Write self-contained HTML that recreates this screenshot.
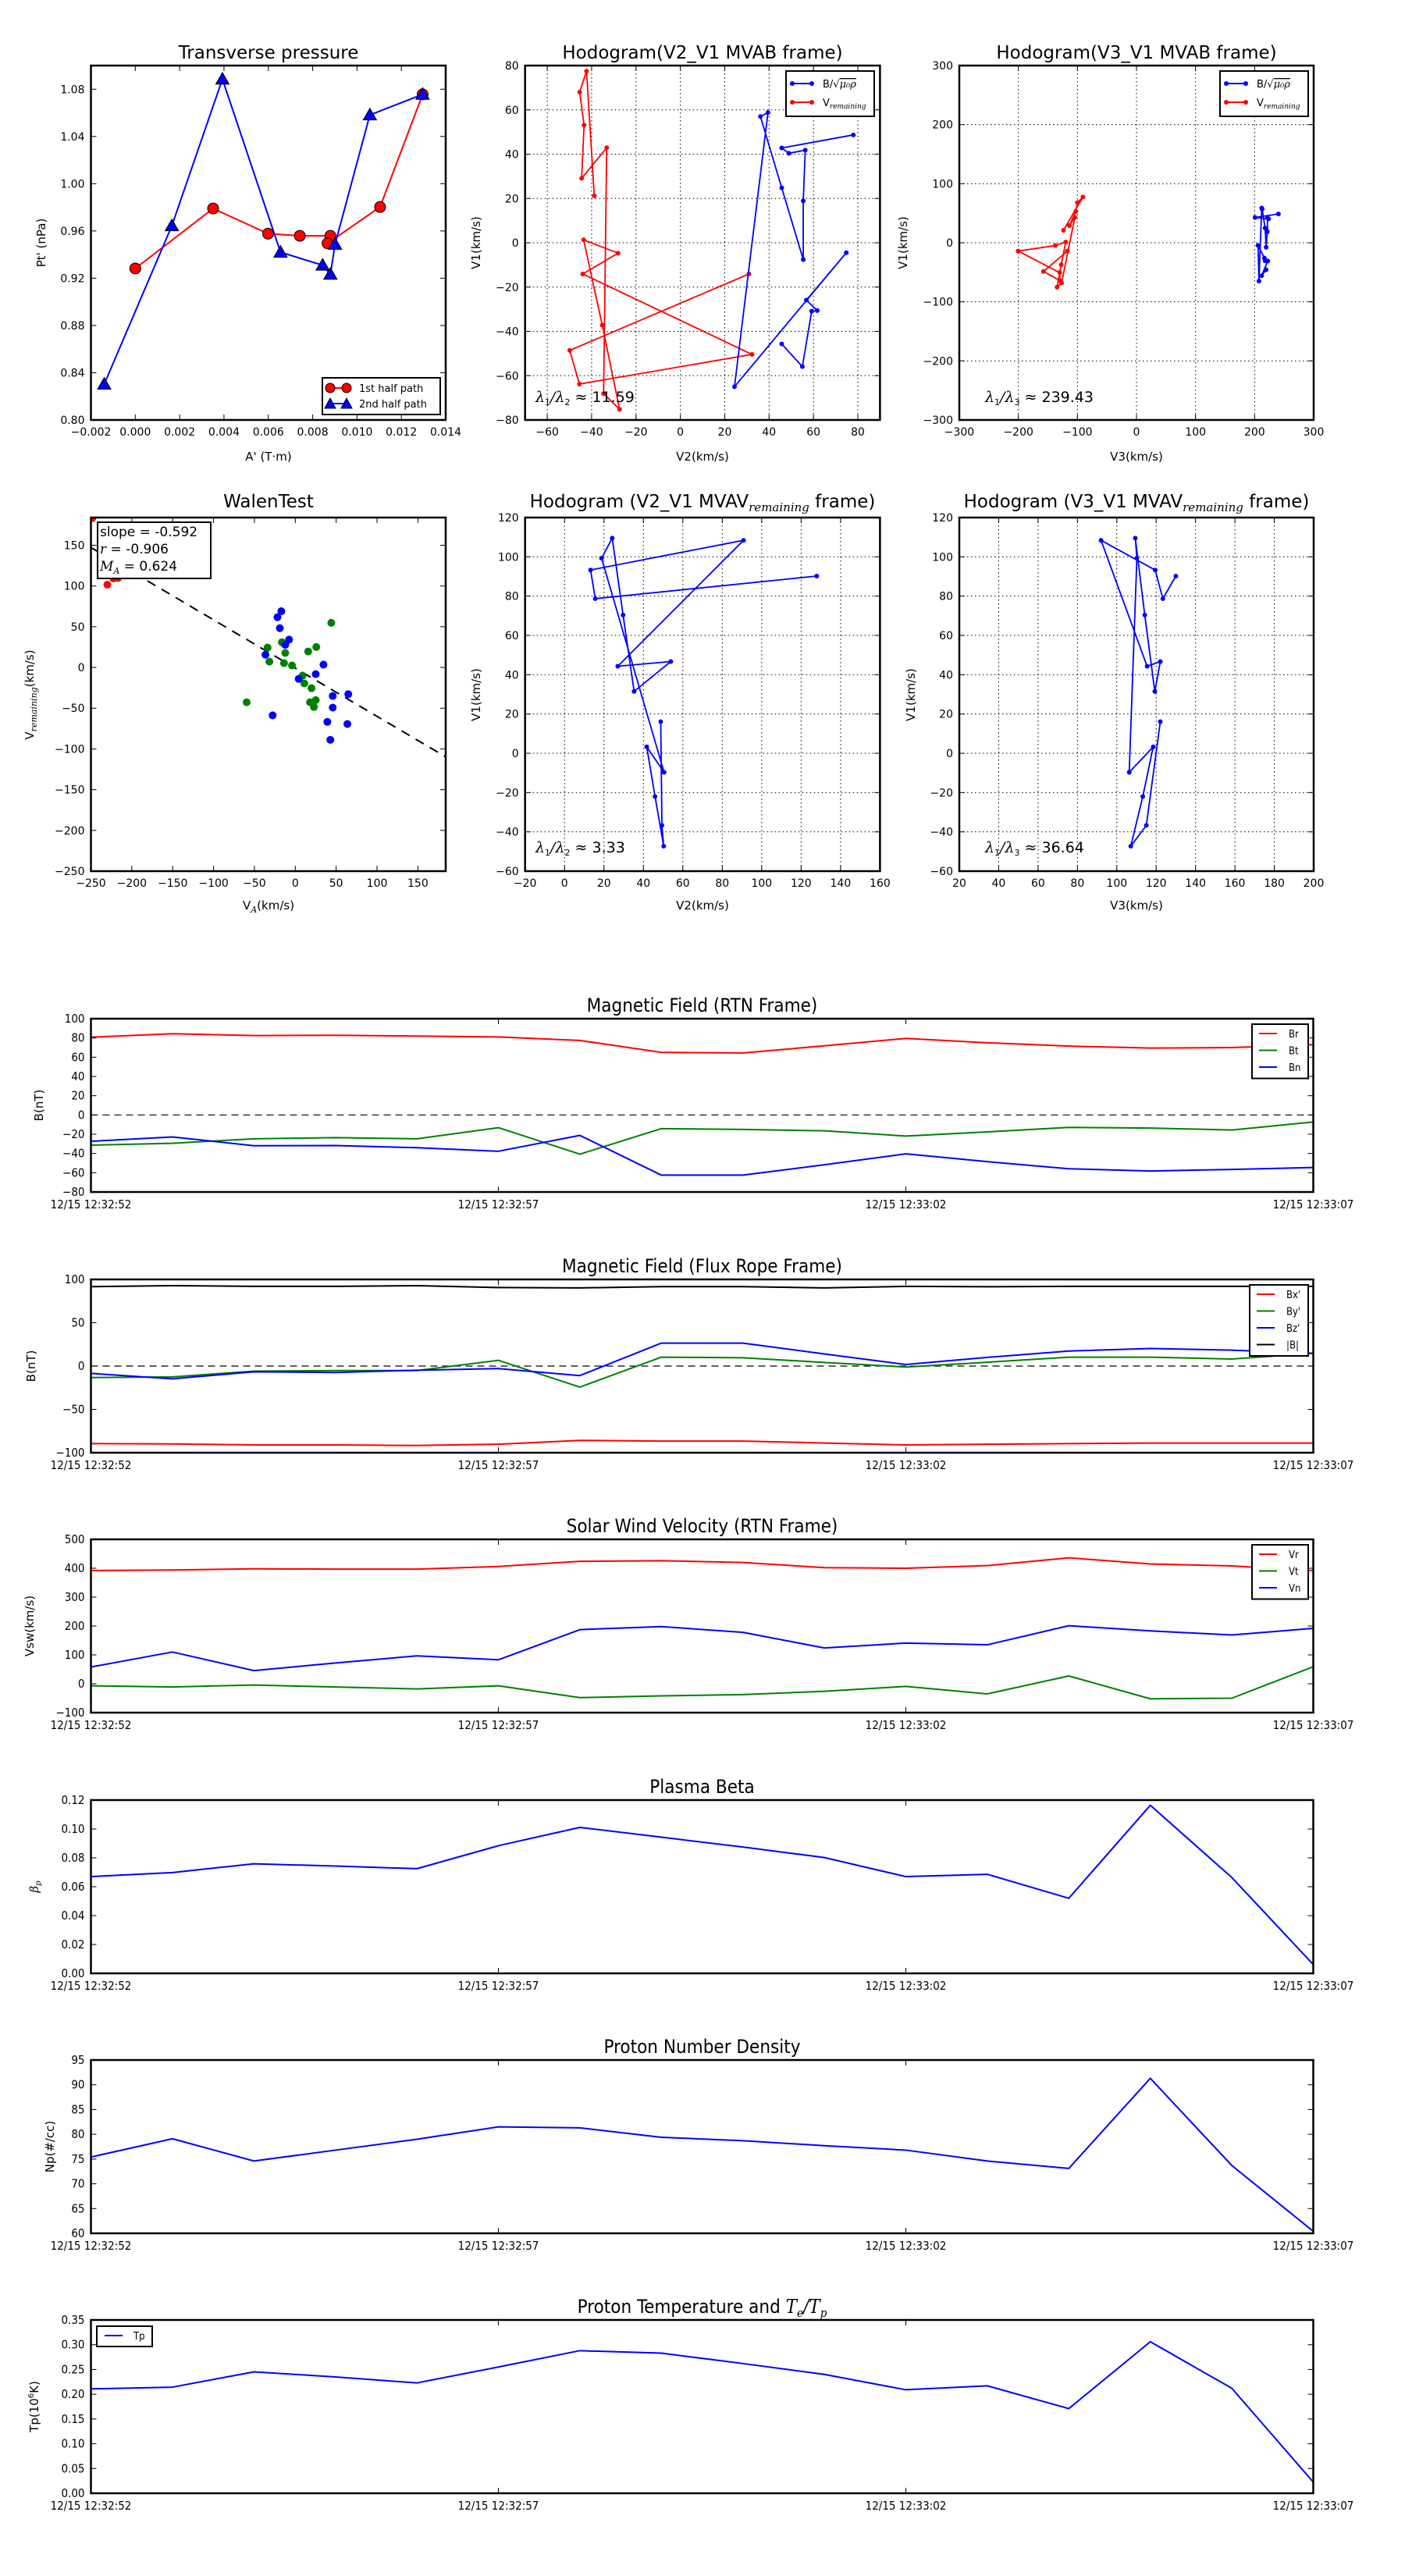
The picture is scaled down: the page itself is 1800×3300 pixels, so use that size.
<!DOCTYPE html>
<html><head><meta charset="utf-8">
<style>
html,body{margin:0;padding:0;background:#fff;}
svg{display:block;}
.t{font-family:"DejaVu Sans","Liberation Sans",sans-serif;fill:#000;}
.c{font-family:"DejaVu Sans Condensed","DejaVu Sans","Liberation Sans Narrow",sans-serif;font-stretch:condensed;fill:#000;}
.m{font-family:"DejaVu Serif","Liberation Serif",serif;font-style:italic;}
</style></head>
<body>
<svg id="fig" xmlns="http://www.w3.org/2000/svg" width="1800" height="3300" viewBox="0 0 1800 3300">
<rect x="0" y="0" width="1800" height="3300" fill="#fff"/>
<defs></defs>
<!-- static titles / labels -->
<text class="t" x="344" y="75" font-size="23" text-anchor="middle">Transverse pressure</text>
<text class="t" x="344" y="590" font-size="15" text-anchor="middle">A' (T·m)</text>
<text class="t" x="0" y="0" font-size="15" text-anchor="middle" transform="translate(58,311) rotate(-90)">Pt' (nPa)</text>

<text class="t" x="900" y="75" font-size="23" text-anchor="middle">Hodogram(V2_V1 MVAB frame)</text>
<text class="t" x="900" y="590" font-size="15" text-anchor="middle">V2(km/s)</text>
<text class="t" x="0" y="0" font-size="15" text-anchor="middle" transform="translate(615,311) rotate(-90)">V1(km/s)</text>

<text class="t" x="1456" y="75" font-size="23" text-anchor="middle">Hodogram(V3_V1 MVAB frame)</text>
<text class="t" x="1456" y="590" font-size="15" text-anchor="middle">V3(km/s)</text>
<text class="t" x="0" y="0" font-size="15" text-anchor="middle" transform="translate(1162,311) rotate(-90)">V1(km/s)</text>

<text class="t" x="344" y="650" font-size="23" text-anchor="middle">WalenTest</text>
<text class="t" x="344" y="1165" font-size="15" text-anchor="middle">V<tspan class="m" font-size="11" dy="4">A</tspan><tspan dy="-4">(km/s)</tspan></text>
<text class="t" x="0" y="0" font-size="15" text-anchor="middle" transform="translate(43,890) rotate(-90)">V<tspan class="m" font-size="11" dy="4">remaining</tspan><tspan dy="-4">(km/s)</tspan></text>

<text class="t" x="900" y="650" font-size="23" text-anchor="middle">Hodogram (V2_V1 MVAV<tspan class="m" font-size="15" dy="5">remaining</tspan><tspan dy="-5"> frame)</tspan></text>
<text class="t" x="900" y="1165" font-size="15" text-anchor="middle">V2(km/s)</text>
<text class="t" x="0" y="0" font-size="15" text-anchor="middle" transform="translate(615,890) rotate(-90)">V1(km/s)</text>

<text class="t" x="1456" y="650" font-size="23" text-anchor="middle">Hodogram (V3_V1 MVAV<tspan class="m" font-size="15" dy="5">remaining</tspan><tspan dy="-5"> frame)</tspan></text>
<text class="t" x="1456" y="1165" font-size="15" text-anchor="middle">V3(km/s)</text>
<text class="t" x="0" y="0" font-size="15" text-anchor="middle" transform="translate(1172,890) rotate(-90)">V1(km/s)</text>
</svg>
<script>
// ---------------- DATA ----------------
// Transverse pressure
const ptRedA=[0.0000,0.00351,0.00599,0.00742,0.0088,0.00867,0.01104,0.01296];
const ptRedP=[0.9282,0.979,0.9577,0.9559,0.9559,0.9495,0.9803,1.0756];
const ptBlueA=[-0.0014,0.00165,0.00393,0.00655,0.00845,0.0088,0.00901,0.01058,0.01296];
const ptBlueP=[0.8303,0.9644,1.0885,0.942,0.931,0.9233,0.9487,1.0582,1.0756];
// MVAB hodograms (shared V1)
const mvabRedV1=[21.2,77.5,68,53.1,29.1,42.9,-68.1,-75.2,-37.2,1.3,-4.7,-14.1,-50.4,-63.8,-48.6,-14.1];
const mvabRedV2=[-38.8,-42.3,-45.4,-43.4,-44.5,-33.2,-34.6,-27.4,-35.2,-43.6,-28.1,-44,32.3,-45.5,-49.9,30.9];
const mvabRedV3=[-123.6,-90.7,-100,-102.7,-113.7,-104.4,-126.8,-134.5,-127.4,-119.7,-137.3,-200.3,-130,-130,-157.5,-117];
const mvabBlueV1=[-45.7,-55.9,-30.9,-30.6,-25.9,-4.5,-65,58.8,57,24.8,-7.6,18.9,41.8,40.4,42.8,48.7];
const mvabBlueV2=[45.7,55,59.2,61.7,56.8,74.8,24.4,39.5,36.1,45.7,55.4,55.4,56.3,48.9,45.7,78];
const mvabBlueV3=[219.5,211.8,222.2,217.8,216.7,205.8,207.4,212,212.8,217.8,219.5,221.6,222,223.8,200.7,240.3];
// MVAV hodograms
const mvavV1=[90.2,78.7,93.3,108.4,44.3,46.7,31.5,70.4,109.5,99.3,-9.7,3.3,-22,-47.3,-36.7,16.1];
const mvavV2=[127.9,15.6,13.2,90.8,27,53.9,35.3,29.7,24.2,18.8,50.5,41.7,45.9,50.3,49.4,48.8];
const mvavV3=[130,123.4,119.5,92,115.4,122.1,119.3,114.2,109.4,110.2,106.3,118.5,113.2,107.1,115,122.1];
// Walen test
const walenRedX=[-248.2,-229.9,-222.6,-217];
const walenRedY=[183.3,101.6,109.3,109.7];
const walenBlueX=[-17.1,-21.8,-18.9,-7.6,-12.3,-36.5,34.5,25,4.1,45.8,64.8,45.8,39.2,63.7,42.9,-27.7];
const walenBlueY=[69,61.7,48.2,34.2,27.7,15.6,3.5,-8.2,-14.1,-35,-32.8,-49.3,-66.8,-69.4,-88.8,-58.8];
const walenGreenX=[44,-33.9,-16.4,-12.3,15.8,25.7,-31.7,-13.8,-4,8.9,11.1,19.8,25,18,22.8,-59.5];
const walenGreenY=[54.8,24.4,31,17.8,19.6,25.1,7.1,5.3,2.4,-10,-19.6,-25.5,-40.1,-42.7,-48.5,-42.7];
const walenSlope=-0.592;
const walenIntercept=-0.8;
// Time series (seconds since 12:32:52)
const tSec=[0,1,2,3,4,5,6,7,8,9,10,11,12,13,14,15];
const timeTickSec=[0,5,10,15];
const timeTickLabels=["12/15 12:32:52","12/15 12:32:57","12/15 12:33:02","12/15 12:33:07"];
const Br=[80.8,84.4,82.5,82.8,82,81,77.4,65,64.4,71.8,79.5,75,71.5,69.5,70,73];
const Bt=[-31.4,-29.4,-24.8,-23.5,-24.8,-13.2,-40.7,-14.2,-15,-16.5,-21.9,-17.6,-12.9,-13.6,-15.6,-7.3];
const Bn=[-27.4,-22.8,-32,-31.8,-34,-37.7,-21.2,-62.5,-62.5,-51.7,-40.4,-48.5,-55.9,-58.2,-56.6,-54.6];
const Bxp=[-89.5,-89.9,-91,-91,-91.7,-90.2,-85.8,-86.6,-86.6,-88.8,-91,-90.2,-89.5,-88.8,-88.8,-88.8];
const Byp=[-13.3,-12.5,-5.9,-5.2,-5.2,6.6,-24.3,10.3,9.6,4.2,-1.1,4.4,10.3,10.3,8.1,14.7];
const Bzp=[-8.5,-14.7,-6.6,-7.4,-4.8,-2.9,-11,26.5,26.5,14,1.8,10,17.3,20.3,18.4,14.7];
const Bmag=[91.7,92.8,92,92,92.8,90.6,90.2,91.7,91.7,90.2,92,91.5,92,92,92,92];
const Vr=[392,394,398,397,397,406,424,426,420,402,400,409,436,415,408,392];
const Vt=[-7,-11,-4.5,-11,-18,-7,-48,-42,-37.5,-26,-9,-35,27,-52,-50,59];
const Vn=[58,110,45.5,72,96.6,83,187.5,198,178,124,141,135,201,183,169,192];
const beta=[0.0670,0.0698,0.0759,0.0743,0.0725,0.0884,0.1011,0.0943,0.0875,0.0802,0.0670,0.0686,0.0520,0.1164,0.0664,0.0061];
const Np=[75.4,79.1,74.6,76.8,79,81.5,81.3,79.4,78.7,77.7,76.8,74.6,73.1,91.3,73.7,60.4];
const Tp=[0.2108,0.2143,0.2452,0.235,0.2228,0.255,0.288,0.283,0.262,0.240,0.209,0.217,0.171,0.306,0.212,0.0225];

// ---------------- HELPERS ----------------
const NS='http://www.w3.org/2000/svg';
const svg=document.getElementById('fig');
const defs=svg.querySelector('defs');
let clipN=0;
function el(tag,attrs,name,parent){
  const e=document.createElementNS(NS,tag);
  for(const k in attrs) e.setAttribute(k,attrs[k]);
  
  
  (parent||svg).appendChild(e);
  return e;
}
function fmt(v,d){const s=v.toFixed(d);return s.replace('-','\u2212');}
function axes(o){
  const sx=v=>o.x0+(v-o.xmin)/(o.xmax-o.xmin)*(o.x1-o.x0);
  const sy=v=>o.y1-(v-o.ymin)/(o.ymax-o.ymin)*(o.y1-o.y0);
  const g=el('g',{},o.name,svg);
  const cid='clip'+(clipN++);
  const cp=document.createElementNS(NS,'clipPath');cp.setAttribute('id',cid);
  const cr=document.createElementNS(NS,'rect');
  cr.setAttribute('x',o.x0);cr.setAttribute('y',o.y0);cr.setAttribute('width',o.x1-o.x0);cr.setAttribute('height',o.y1-o.y0);
  cp.appendChild(cr);defs.appendChild(cp);
  if(o.grid){
    o.xt.forEach(v=>{const x=sx(v); if(x>o.x0+1&&x<o.x1-1) el('line',{x1:x,x2:x,y1:o.y0,y2:o.y1,stroke:'#000','stroke-width':1,'stroke-dasharray':'1.5,3.5'},o.name+'-x-grid',g);});
    o.yt.forEach(v=>{const y=sy(v); if(y>o.y0+1&&y<o.y1-1) el('line',{x1:o.x0,x2:o.x1,y1:y,y2:y,stroke:'#000','stroke-width':1,'stroke-dasharray':'1.5,3.5'},o.name+'-y-grid',g);});
  }
  const dg=el('g',{'clip-path':'url(#'+cid+')'},o.name+'-plot-area',g);
  return {sx,sy,g,dg,o};
}
function finish(A){
  const o=A.o, g=A.g, cls=o.cls||'t', fs=o.fs||14;
  const tl=7;
  o.xt.forEach((v,i)=>{
    const x=A.sx(v);
    el('line',{x1:x,x2:x,y1:o.y1,y2:o.y1-tl,stroke:'#000','stroke-width':1},o.name+'-x-tick',g);
    el('line',{x1:x,x2:x,y1:o.y0,y2:o.y0+tl,stroke:'#000','stroke-width':1},o.name+'-x-tick-top',g);
    const t=el('text',{x:x,y:o.y1+(o.xlDy||20),'font-size':fs,'text-anchor':'middle',class:cls},o.name+'-x-tick-label',g);
    t.textContent=o.xl[i];
  });
  o.yt.forEach((v,i)=>{
    const y=A.sy(v);
    el('line',{x1:o.x0,x2:o.x0+tl,y1:y,y2:y,stroke:'#000','stroke-width':1},o.name+'-y-tick',g);
    el('line',{x1:o.x1,x2:o.x1-tl,y1:y,y2:y,stroke:'#000','stroke-width':1},o.name+'-y-tick-right',g);
    const t=el('text',{x:o.x0-8,y:y+5,'font-size':fs,'text-anchor':'end',class:cls},o.name+'-y-tick-label',g);
    t.textContent=o.yl[i];
  });
  el('rect',{x:o.x0,y:o.y0,width:o.x1-o.x0,height:o.y1-o.y0,fill:'none',stroke:'#000','stroke-width':2.5},o.name+'-frame',g);
}
function pts(A,xs,ys){return xs.map((x,i)=>A.sx(x).toFixed(2)+','+A.sy(ys[i]).toFixed(2)).join(' ');}
function line(A,xs,ys,color,name,w){
  el('polyline',{points:pts(A,xs,ys),fill:'none',stroke:color,'stroke-width':w||2,'stroke-linejoin':'round'},name,A.dg);
}
function dots(A,xs,ys,color,r,name,stroke){
  xs.forEach((x,i)=>{
    el('circle',{cx:A.sx(x),cy:A.sy(ys[i]),r:r,fill:color,stroke:stroke||color,'stroke-width':stroke?1:0},name,A.dg);
  });
}
function tris(A,xs,ys,color,name){
  xs.forEach((x,i)=>{
    const cx=A.sx(x),cy=A.sy(ys[i]),s=8.5;
    el('polygon',{points:`${cx},${cy-s} ${cx-s},${cy+s*0.75} ${cx+s},${cy+s*0.75}`,fill:color,stroke:'#000','stroke-width':1},name,A.dg);
  });
}
function range(a,b,s){const r=[];for(let v=a;v<=b+1e-9;v+=s)r.push(+v.toFixed(6));return r;}

// ---------------- TOP ROW ----------------
{
  const xt=range(-0.002,0.014,0.002), yt=range(0.80,1.08,0.04);
  const A=axes({name:'pt-axes',x0:116.5,x1:571,y0:84,y1:538,xmin:-0.002,xmax:0.014,ymin:0.80,ymax:1.10,
    xt:xt,xl:xt.map(v=>fmt(v,3)),yt:yt,yl:yt.map(v=>fmt(v,2))});
  line(A,ptRedA,ptRedP,'#ff0000','pt-1st-half-line',2);
  line(A,ptBlueA,ptBlueP,'#0000ff','pt-2nd-half-line',2);
  dots(A,ptRedA,ptRedP,'#ff0000',7,'pt-1st-half-marker','#000');
  tris(A,ptBlueA,ptBlueP,'#0000ff','pt-2nd-half-marker');
  finish(A);
  const lg=el('g',{},'pt-legend',svg);
  el('rect',{x:413,y:484,width:151,height:47,fill:'#fff',stroke:'#000','stroke-width':2},'pt-legend-box',lg);
  el('line',{x1:423,x2:444,y1:497,y2:497,stroke:'#ff0000','stroke-width':2},'pt-legend-red-line',lg);
  el('circle',{cx:423,cy:497,r:6,fill:'#ff0000',stroke:'#000','stroke-width':1},'pt-legend-red-marker',lg);
  el('circle',{cx:444,cy:497,r:6,fill:'#ff0000',stroke:'#000','stroke-width':1},'pt-legend-red-marker',lg);
  el('line',{x1:423,x2:444,y1:517,y2:517,stroke:'#0000ff','stroke-width':2},'pt-legend-blue-line',lg);
  el('polygon',{points:'423,510 416,523 430,523',fill:'#0000ff',stroke:'#000','stroke-width':1},'pt-legend-blue-marker',lg);
  el('polygon',{points:'444,510 437,523 451,523',fill:'#0000ff',stroke:'#000','stroke-width':1},'pt-legend-blue-marker',lg);
  const t1=el('text',{x:460,y:502,'font-size':13,class:'t'},'pt-legend-label',lg);t1.textContent='1st half path';
  const t2=el('text',{x:460,y:522,'font-size':13,class:'t'},'pt-legend-label',lg);t2.textContent='2nd half path';
}
function hodoLegend(x,y,w,name){
  const lg=el('g',{},name,svg);
  el('rect',{x:x,y:y,width:w,height:58,fill:'#fff',stroke:'#000','stroke-width':2},name+'-box',lg);
  el('line',{x1:x+8,x2:x+33,y1:y+16,y2:y+16,stroke:'#0000ff','stroke-width':2},name+'-b-line',lg);
  el('circle',{cx:x+8,cy:y+16,r:3,fill:'#0000ff'},name+'-b-marker',lg);
  el('circle',{cx:x+33,cy:y+16,r:3,fill:'#0000ff'},name+'-b-marker',lg);
  el('line',{x1:x+8,x2:x+33,y1:y+40,y2:y+40,stroke:'#ff0000','stroke-width':2},name+'-v-line',lg);
  el('circle',{cx:x+8,cy:y+40,r:3,fill:'#ff0000'},name+'-v-marker',lg);
  el('circle',{cx:x+33,cy:y+40,r:3,fill:'#ff0000'},name+'-v-marker',lg);
  const a=el('text',{x:x+47,y:y+21,'font-size':13,class:'t'},name+'-b-label',lg);
  a.innerHTML='B/√<tspan class="m" text-decoration="overline">μ₀ρ</tspan>';
  const b=el('text',{x:x+47,y:y+45,'font-size':13,class:'t'},name+'-v-label',lg);
  b.innerHTML='V<tspan class="m" font-size="9" dy="3">remaining</tspan>';
}
function lam(x,y,sub,val,name){
  const t=el('text',{x:x,y:y,'font-size':19,class:'t'},name,svg);
  t.innerHTML='<tspan class="m">λ</tspan><tspan font-size="11" dy="4">1</tspan><tspan class="m" dy="-4">/λ</tspan><tspan font-size="11" dy="4">'+sub+'</tspan><tspan dy="-4"> ≈ '+val+'</tspan>';
}
{
  const xt=range(-60,80,20), yt=range(-80,80,20);
  const A=axes({name:'hodo-v2v1-mvab-axes',grid:true,x0:672.7,x1:1127.4,y0:84,y1:538,xmin:-70,xmax:90,ymin:-80,ymax:80,
    xt:xt,xl:xt.map(v=>fmt(v,0)),yt:yt,yl:yt.map(v=>fmt(v,0))});
  line(A,mvabRedV2,mvabRedV1,'#ff0000','mvab-v2v1-vremaining-line',1.8);
  dots(A,mvabRedV2,mvabRedV1,'#ff0000',3,'mvab-v2v1-vremaining-point');
  line(A,mvabBlueV2,mvabBlueV1,'#0000ff','mvab-v2v1-b-line',1.8);
  dots(A,mvabBlueV2,mvabBlueV1,'#0000ff',3,'mvab-v2v1-b-point');
  finish(A);
  hodoLegend(1007,91,113,'hodo-v2v1-mvab-legend');
  lam(686,515,'2','11.59','hodo-v2v1-mvab-eigen-ratio');
}
{
  const xt=range(-300,300,100), yt=range(-300,300,100);
  const A=axes({name:'hodo-v3v1-mvab-axes',grid:true,x0:1229,x1:1683,y0:84,y1:538,xmin:-300,xmax:300,ymin:-300,ymax:300,
    xt:xt,xl:xt.map(v=>fmt(v,0)),yt:yt,yl:yt.map(v=>fmt(v,0))});
  line(A,mvabRedV3,mvabRedV1,'#ff0000','mvab-v3v1-vremaining-line',1.8);
  dots(A,mvabRedV3,mvabRedV1,'#ff0000',3,'mvab-v3v1-vremaining-point');
  line(A,mvabBlueV3,mvabBlueV1,'#0000ff','mvab-v3v1-b-line',1.8);
  dots(A,mvabBlueV3,mvabBlueV1,'#0000ff',3,'mvab-v3v1-b-point');
  finish(A);
  hodoLegend(1563,91,113,'hodo-v3v1-mvab-legend');
  lam(1262,515,'3','239.43','hodo-v3v1-mvab-eigen-ratio');
}
// ---------------- MIDDLE ROW ----------------
{
  const xt=range(-250,150,50), yt=range(-250,150,50);
  const A=axes({name:'walen-axes',x0:116.5,x1:571,y0:663,y1:1116,xmin:-250,xmax:184,ymin:-250,ymax:184,
    xt:xt,xl:xt.map(v=>fmt(v,0)),yt:yt,yl:yt.map(v=>fmt(v,0))});
  const lx=[-250,184], ly=lx.map(x=>walenSlope*x+walenIntercept);
  el('line',{x1:A.sx(lx[0]),y1:A.sy(ly[0]),x2:A.sx(lx[1]),y2:A.sy(ly[1]),stroke:'#000','stroke-width':2,'stroke-dasharray':'12,9'},'walen-fit-line',A.dg);
  dots(A,walenRedX,walenRedY,'#ff0000',5,'walen-red-point');
  dots(A,walenGreenX,walenGreenY,'#008000',5,'walen-green-point');
  dots(A,walenBlueX,walenBlueY,'#0000ff',5,'walen-blue-point');
  finish(A);
  const bx=el('g',{},'walen-stats-box',svg);
  el('rect',{x:125,y:669,width:145,height:72,fill:'#fff',stroke:'#000','stroke-width':2},'walen-stats-frame',bx);
  const s1=el('text',{x:128,y:687,'font-size':17,class:'t'},'walen-slope-text',bx);s1.textContent='slope = -0.592';
  const s2=el('text',{x:128,y:709,'font-size':17,class:'t'},'walen-r-text',bx);s2.innerHTML='<tspan class="m">r</tspan> = -0.906';
  const s3=el('text',{x:128,y:731,'font-size':17,class:'t'},'walen-ma-text',bx);s3.innerHTML='<tspan class="m">M</tspan><tspan class="m" font-size="11" dy="4">A</tspan><tspan dy="-4"> = 0.624</tspan>';
}
{
  const xt=range(-20,160,20), yt=range(-60,120,20);
  const A=axes({name:'hodo-v2v1-mvav-axes',grid:true,x0:672.7,x1:1127.4,y0:663,y1:1116,xmin:-20,xmax:160,ymin:-60,ymax:120,
    xt:xt,xl:xt.map(v=>fmt(v,0)),yt:yt,yl:yt.map(v=>fmt(v,0))});
  line(A,mvavV2,mvavV1,'#0000ff','mvav-v2v1-line',1.8);
  dots(A,mvavV2,mvavV1,'#0000ff',3,'mvav-v2v1-point');
  finish(A);
  lam(686,1092,'2','3.33','hodo-v2v1-mvav-eigen-ratio');
}
{
  const xt=range(20,200,20), yt=range(-60,120,20);
  const A=axes({name:'hodo-v3v1-mvav-axes',grid:true,x0:1229,x1:1683,y0:663,y1:1116,xmin:20,xmax:200,ymin:-60,ymax:120,
    xt:xt,xl:xt.map(v=>fmt(v,0)),yt:yt,yl:yt.map(v=>fmt(v,0))});
  line(A,mvavV3,mvavV1,'#0000ff','mvav-v3v1-line',1.8);
  dots(A,mvavV3,mvavV1,'#0000ff',3,'mvav-v3v1-point');
  finish(A);
  lam(1262,1092,'3','36.64','hodo-v3v1-mvav-eigen-ratio');
}
// ---------------- TIME SERIES ----------------
const TS_X0=116.5, TS_X1=1682.5, TS_H=222;
function ts(name,top,ymin,ymax,yt,dec,title,ylabel,ylx){
  const A=axes({name:name,cls:'c',fs:15,xlDy:21,x0:TS_X0,x1:TS_X1,y0:top,y1:top+TS_H,xmin:0,xmax:15,ymin:ymin,ymax:ymax,
    xt:timeTickSec,xl:timeTickLabels,yt:yt,yl:yt.map(v=>fmt(v,dec))});
  const t=el('text',{x:(TS_X0+TS_X1)/2,y:top-9,'font-size':24,'text-anchor':'middle',class:'c'},name+'-title',svg);
  t.innerHTML=title;
  const yl=el('text',{x:0,y:0,'font-size':15,'text-anchor':'middle',class:'t',transform:`translate(${ylx},${top+TS_H/2}) rotate(-90)`},name+'-y-label',svg);
  yl.innerHTML=ylabel;
  return A;
}
function zero(A){
  el('line',{x1:TS_X0,x2:TS_X1,y1:A.sy(0),y2:A.sy(0),stroke:'#000','stroke-width':1.2,'stroke-dasharray':'9,6'},A.o.name+'-zero-line',A.dg);
}
function tsLegend(x,y,w,entries,name){
  const lg=el('g',{},name,svg);
  el('rect',{x:x,y:y,width:w,height:entries.length*21.5+5,fill:'#fff',stroke:'#000','stroke-width':2},name+'-box',lg);
  entries.forEach((e,i)=>{
    const cy=y+12+i*21.5;
    el('line',{x1:x+9,x2:x+32,y1:cy,y2:cy,stroke:e[1],'stroke-width':2},name+'-swatch',lg);
    const t=el('text',{x:x+47,y:cy+5,'font-size':13,class:'c'},name+'-label',lg);
    t.textContent=e[0];
  });
}
{
  const A=ts('b-rtn-axes',1305,-80,100,range(-80,100,20),0,'Magnetic Field (RTN Frame)','B(nT)',55);
  zero(A);
  line(A,tSec,Br,'#ff0000','br-line');
  line(A,tSec,Bt,'#008000','bt-line');
  line(A,tSec,Bn,'#0000ff','bn-line');
  finish(A);
  tsLegend(1604,1312,72,[['Br','#ff0000'],['Bt','#008000'],['Bn','#0000ff']],'b-rtn-legend');
}
{
  const A=ts('b-fluxrope-axes',1639,-100,100,range(-100,100,50),0,'Magnetic Field (Flux Rope Frame)','B(nT)',45);
  zero(A);
  line(A,tSec,Bxp,'#ff0000','bx-prime-line');
  line(A,tSec,Byp,'#008000','by-prime-line');
  line(A,tSec,Bzp,'#0000ff','bz-prime-line');
  line(A,tSec,Bmag,'#000000','b-magnitude-line');
  finish(A);
  tsLegend(1601,1646,75,[["Bx'",'#ff0000'],["By'",'#008000'],["Bz'",'#0000ff'],['|B|','#000000']],'b-fluxrope-legend');
}
{
  const A=ts('vsw-axes',1972,-100,500,range(-100,500,100),0,'Solar Wind Velocity (RTN Frame)','Vsw(km/s)',43);
  line(A,tSec,Vr,'#ff0000','vr-line');
  line(A,tSec,Vt,'#008000','vt-line');
  line(A,tSec,Vn,'#0000ff','vn-line');
  finish(A);
  tsLegend(1604,1979,72,[['Vr','#ff0000'],['Vt','#008000'],['Vn','#0000ff']],'vsw-legend');
}
{
  const A=ts('beta-axes',2306,0,0.12,range(0,0.12,0.02),2,'Plasma Beta','<tspan class="m">β</tspan><tspan class="m" font-size="10" dy="3">p</tspan>',49);
  line(A,tSec,beta,'#0000ff','beta-line');
  finish(A);
}
{
  const A=ts('np-axes',2639,60,95,range(60,95,5),0,'Proton Number Density','Np(#/cc)',69);
  line(A,tSec,Np,'#0000ff','np-line');
  finish(A);
}
{
  const A=ts('tp-axes',2972,0,0.35,range(0,0.35,0.05),2,'Proton Temperature and <tspan class="m">T</tspan><tspan class="m" font-size="15" dy="5">e</tspan><tspan class="m" dy="-5">/T</tspan><tspan class="m" font-size="15" dy="5">p</tspan>','Tp(10<tspan font-size="10" dy="-6">6</tspan><tspan dy="6">K)</tspan>',49);
  line(A,tSec,Tp,'#0000ff','tp-line');
  finish(A);
  const lg=el('g',{},'tp-legend',svg);
  el('rect',{x:124,y:2980,width:71,height:26,fill:'#fff',stroke:'#000','stroke-width':2},'tp-legend-box',lg);
  el('line',{x1:134,x2:157,y1:2992,y2:2992,stroke:'#0000ff','stroke-width':2},'tp-legend-swatch',lg);
  const t=el('text',{x:171,y:2997,'font-size':13,class:'c'},'tp-legend-label',lg);t.textContent='Tp';
}
</script>
</body></html>
